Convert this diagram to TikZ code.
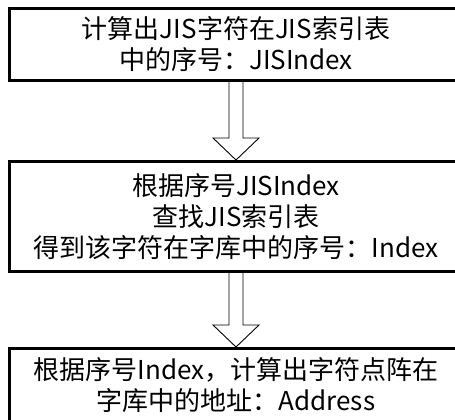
\documentclass[tikz,border=0pt]{standalone}
\usepackage{fontspec}
\setmainfont{Noto Sans CJK SC}
\usetikzlibrary{positioning, calc}
\tikzset{
  stepbox/.style={draw, line width=3, minimum width=453, inner sep=0, outer sep=1.5, align=center, font=\fontsize{26}{31}\selectfont},
  hollow/.style={draw, line width=0.9, line join=miter},
  x=1pt, y=1pt, node distance=1
}
\newcommand{\hollowarrow}[2]{%
  \draw[hollow] ($(#1.south)+(-7,0)$) -- ($(#2.north)+(-7,22)$) -- ($(#2.north)+(-23,22)$) -- (#2.north)
    -- ($(#2.north)+(23,22)$) -- ($(#2.north)+(7,22)$) -- ($(#1.south)+(7,0)$);
}
\begin{document}
\begin{tikzpicture}
    \useasboundingbox (0,0) rectangle (455,-420);
    \clip (0,0) rectangle (455,-420);
    \node[stepbox, minimum height=72] (jisindex) at (236,-44.5) {计算出JIS字符在JIS索引表\\中的序号：JISIndex};
    \node[stepbox, minimum height=110, below=78 of jisindex] (index) {根据序号JISIndex\\查找JIS索引表\\得到该字符在字库中的序号：Index};
    \node[stepbox, minimum height=73, below=74 of index] (address) {根据序号Index，计算出字符点阵在\\字库中的地址：Address};
    \hollowarrow{jisindex}{index}
    \hollowarrow{index}{address}
\end{tikzpicture}
\end{document}
